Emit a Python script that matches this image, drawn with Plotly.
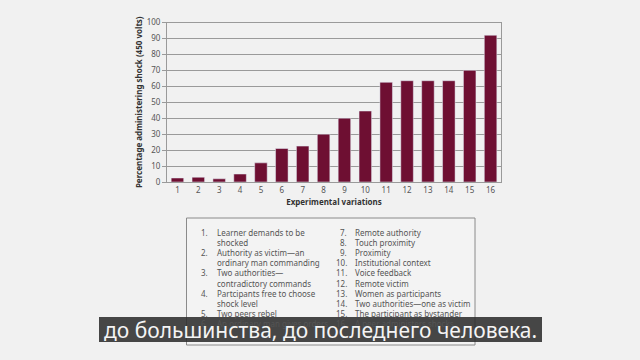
import plotly.graph_objects as go

W, H = 640, 360

variations = [str(i) for i in range(1, 17)]
percent_450 = [2.5, 3, 2, 5, 12, 21, 22.5, 30, 40, 44.5, 62.5, 63.5, 63.5, 63.5, 70, 92]
y_ticks = list(range(0, 101, 10))

left_items = [
    ("1.", ["Learner demands to be", "shocked"]),
    ("2.", ["Authority as victim\u2014an", "ordinary man commanding"]),
    ("3.", ["Two authorities\u2014", "contradictory commands"]),
    ("4.", ["Partcipants free to choose", "shock level"]),
    ("5.", ["Two peers rebel"]),
    ("6.", ["An ordinary man gives orders"]),
]
right_items = [
    ("7.", "Remote authority"),
    ("8.", "Touch proximity"),
    ("9.", "Proximity"),
    ("10.", "Institutional context"),
    ("11.", "Voice feedback"),
    ("12.", "Remote victim"),
    ("13.", "Women as participants"),
    ("14.", "Two authorities\u2014one as victim"),
    ("15.", "The participant as bystander"),
    ("16.", "A peer administers shocks"),
]
subtitle = "до большинства, до последнего человека."

BG = "#f1f1f1"
BAR = "#6e0f32"
GRID = "#9a9a9a"
TXT = "#555555"
FONT = "Noto Sans"


def px(x):
    return x / W


def py(y):
    return 1 - y / H


fig = go.Figure(
    go.Bar(x=variations, y=percent_450, marker_color=BAR, width=0.6)
)

fig.update_layout(
    width=W,
    height=H,
    margin=dict(l=0, r=0, t=0, b=0),
    paper_bgcolor=BG,
    plot_bgcolor=BG,
    showlegend=False,
    font=dict(family=FONT, color=TXT, size=8),
    xaxis=dict(
        domain=[px(167), px(501)],
        automargin=False,
        tickfont=dict(size=8, color=TXT),
        showgrid=False,
        showline=True,
        linecolor=GRID,
        mirror=True,
        ticks="",
        title=dict(
            text="<b>Experimental variations</b>",
            font=dict(size=8, color="#333333"),
            standoff=5,
        ),
    ),
    yaxis=dict(
        domain=[py(182), py(22.5)],
        automargin=False,
        range=[0, 100],
        tickvals=y_ticks,
        tickfont=dict(size=8, color=TXT),
        showgrid=True,
        gridcolor=GRID,
        gridwidth=1,
        showline=True,
        linecolor=GRID,
        mirror=True,
        ticks="outside",
        ticklen=4,
        tickcolor=GRID,
        zeroline=False,
        title=dict(
            text="<b>Percentage administering shock (450 volts)</b>",
            font=dict(size=8, color="#333333"),
            standoff=2,
        ),
    ),
)

shapes = []
annotations = []

# legend box
shapes.append(dict(type="rect", xref="paper", yref="paper",
                   x0=px(186.5), x1=px(475), y0=py(345), y1=py(218),
                   line=dict(color="#8a8a8a", width=1), fillcolor="#f3f3f3", layer="below"))

row_y0 = 232
row_dy = 10.2
r = 0
for num, lines in left_items:
    annotations.append(dict(xref="paper", yref="paper", x=px(210), y=py(row_y0 + r * row_dy),
                            text=num, showarrow=False, xanchor="right", yanchor="middle",
                            font=dict(size=8, color=TXT)))
    for ln in lines:
        annotations.append(dict(xref="paper", yref="paper", x=px(214.5), y=py(row_y0 + r * row_dy),
                                text=ln, showarrow=False, xanchor="left", yanchor="middle",
                                font=dict(size=8, color=TXT)))
        r += 1

for i, (num, txt) in enumerate(right_items):
    yy = py(row_y0 + i * row_dy)
    annotations.append(dict(xref="paper", yref="paper", x=px(349), y=yy,
                            text=num, showarrow=False, xanchor="right", yanchor="middle",
                            font=dict(size=8, color=TXT)))
    annotations.append(dict(xref="paper", yref="paper", x=px(353), y=yy,
                            text=txt, showarrow=False, xanchor="left", yanchor="middle",
                            font=dict(size=8, color=TXT)))

# subtitle band
shapes.append(dict(type="rect", xref="paper", yref="paper",
                   x0=px(99), x1=px(542), y0=py(342), y1=py(317),
                   line=dict(width=0), fillcolor="rgba(45,45,45,0.88)", layer="above"))
annotations.append(dict(xref="paper", yref="paper", x=px(320.5), y=py(329.5),
                        text=subtitle, showarrow=False, xanchor="center", yanchor="middle",
                        font=dict(size=21, color="#f4f4f4", family=FONT)))

fig.update_layout(shapes=shapes, annotations=annotations)

fig.write_html(
    "out.html",
    config={"displayModeBar": False},
    post_script="document.body.style.margin='0';document.body.style.background='#f1f1f1';"
                "document.body.style.overflow='hidden';",
)
